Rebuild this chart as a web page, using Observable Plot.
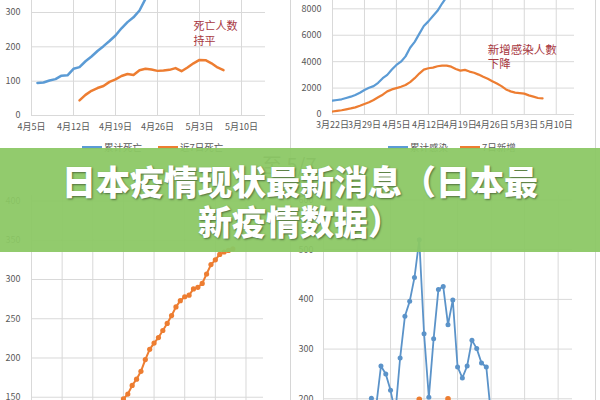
<!DOCTYPE html>
<html><head><meta charset="utf-8">
<script src="https://cdn.jsdelivr.net/npm/d3@7"></script>
<script src="https://cdn.jsdelivr.net/npm/@observablehq/plot@0.6"></script>
<style>
body{margin:0;background:#fff;font-family:"Noto Sans CJK SC","Noto Sans",sans-serif;}
#root{position:relative;width:600px;height:400px;overflow:hidden;background:#fff;}
.panel{position:absolute;}
.vline{position:absolute;top:0;width:1px;height:400px;background:#d6d6d6;}
.legend{position:absolute;font-size:9.5px;color:#595959;display:flex;align-items:center;white-space:nowrap;}
.sw{display:inline-block;width:20px;height:3px;margin:0 2px 0 0;}
#banner{position:absolute;left:0;top:148px;width:600px;height:104px;background:rgba(139,200,100,0.94);}
#title{position:absolute;left:0;top:161px;width:600px;text-align:center;color:#fff;font-weight:900;font-size:34px;line-height:40px;text-shadow:1px 1px 2px rgba(0,0,0,0.45);}
.ghost{position:absolute;color:#666;font-size:20px;}
</style></head>
<body>
<div id="root">
  <div class="panel" id="tl" style="left:0;top:0"></div>
  <div class="panel" id="tr" style="left:290px;top:0"></div>
  <div class="panel" id="bl" style="left:0;top:148px"></div>
  <div class="panel" id="br" style="left:290px;top:148px"></div>
  <div class="vline" style="left:290px"></div>
  <div class="vline" style="left:595px"></div>
  <div class="legend" style="left:82px;top:140px"><span class="sw" style="background:#5B9BD5"></span>累计死亡<span class="sw" style="background:#ED7D31;margin-left:16px"></span>近7日死亡</div>
  <div class="legend" style="left:388px;top:140px"><span class="sw" style="background:#5B9BD5"></span>累计感染<span class="sw" style="background:#ED7D31;margin-left:12px"></span>7日新增</div>
  <div class="ghost" style="left:262px;top:150px">至 5/7</div>
  <div id="banner"></div>
  <div id="title">日本疫情现状最新消息（日本最<br>新疫情数据）</div>
</div>
<script>
// ---- data ----
// top-left: deaths
const tlCumStart = "2020-04-06";
const tlCumDeaths = [95,96,102,106,116,117,136,141,158,172,188,202,217,233,254,272,286,306,340,365];
const tl7dStart = "2020-04-13";
const tl7dDeaths = [44,60,72,80,86,98,105,115,121,118,132,136,134,130,131,133,138,129,140,152,162,161,152,140,132];
const tlYTicks = [0,100,200,300];
const tlXTicks = ["2020-04-05","2020-04-12","2020-04-19","2020-04-26","2020-05-03","2020-05-10"];
const tlNote = ["死亡人数\n持平"];

// top-right: infections
const trCumStart = "2020-03-22";
const trCumCases = [1050,1100,1150,1250,1350,1480,1650,1850,2020,2150,2400,2750,3000,3400,3750,4000,4400,5050,5500,6100,6700,7050,7450,7850,8400,8900];
const tr7dStart = "2020-03-22";
const tr7dCases = [225,270,320,390,460,540,660,800,930,1100,1300,1500,1750,1900,2000,2100,2230,2450,2750,3100,3400,3500,3550,3650,3700,3700,3620,3450,3320,3380,3250,3160,3020,2850,2700,2520,2350,2150,1900,1750,1660,1620,1580,1450,1350,1250,1220];
const trYTicks = [0,2000,4000,6000,8000];
const trXTicks = ["2020-03-22","2020-03-29","2020-04-05","2020-04-12","2020-04-19","2020-04-26","2020-05-03","2020-05-10"];
const trNote = ["新增感染人數\n下降"];

// bottom-left: cumulative series (orange markers)
const blStart = "2020-04-12";
const blValues = [148,154,165,173,183,198,211,219,226,235,244,254,265,273,278,280,288,290,295,307,319,325,332,335,337,339];
const blYTicks = [150,200,250,300,350,400];
const blXTicks = ["2020-03-22","2020-03-29","2020-04-05","2020-04-12","2020-04-19","2020-04-26","2020-05-03","2020-05-10"];

// bottom-right: daily series
const brStart = "2020-04-01";
const brBlue = [201,185,266,250,217,170,282,366,396,444,520,331,203,321,420,426,349,399,264,242,266,318,301,272,264,165];
const brOrangeDates = ["2020-04-11","2020-04-17"];
const brOrange = [199,200];
const brYTicks = [200,300,400,500,600];
const brXTicks = blXTicks;

// ---- helpers ----
const D = s => new Date(s + "T00:00:00Z");
const DAY = 864e5;
const series = (start, vals) => vals.map((v, i) => ({date: new Date(D(start).getTime() + i * DAY), value: v}));
const fmt = d => `${d.getUTCMonth() + 1}月${d.getUTCDate()}日`;
const num = d => String(d);
const BLUE = "#5B9BD5", ORANGE = "#ED7D31", GRID = "#d9d9d9", NOTE = "#A8383F";
const style = {fontFamily: '"Noto Sans CJK SC","Noto Sans",sans-serif', fontSize: "9px", color: "#595959", background: "transparent", overflow: "visible"};

function grids(xt, yt) {
  return [
    Plot.gridY(yt, {stroke: GRID, strokeOpacity: 1}),
    Plot.gridX(xt.map(D), {stroke: GRID, strokeOpacity: 1})
  ];
}

// top-left
document.getElementById("tl").append(Plot.plot({
  width: 290, height: 150, marginTop: 0, marginLeft: 31, marginRight: 25, marginBottom: 35, style,
  x: {type: "utc", domain: [D("2020-04-05"), D("2020-05-14")]},
  y: {domain: [0, 335]},
  marks: [
    ...grids(tlXTicks, tlYTicks),
    Plot.axisY(tlYTicks, {tickSize: 0, tickPadding: 11, tickFormat: num, label: null}),
    Plot.axisX(tlXTicks.map(D), {tickSize: 0, tickPadding: 8, tickFormat: fmt, label: null}),
    Plot.line(series(tlCumStart, tlCumDeaths), {x: "date", y: "value", stroke: BLUE, strokeWidth: 2.5, clip: true}),
    Plot.line(series(tl7dStart, tl7dDeaths), {x: "date", y: "value", stroke: ORANGE, strokeWidth: 2.5, clip: true}),
    Plot.text(tlNote, {x: D("2020-05-02"), y: 280, text: d => d, textAnchor: "start", lineAnchor: "top", lineHeight: 1.35, fill: NOTE, fontSize: 11})
  ]
}));

// top-right
document.getElementById("tr").append(Plot.plot({
  width: 310, height: 150, marginTop: 0, marginLeft: 42, marginRight: 26, marginBottom: 36, style,
  x: {type: "utc", domain: [D("2020-03-22"), D("2020-05-14")]},
  y: {domain: [0, 8630]},
  marks: [
    ...grids(trXTicks, trYTicks),
    Plot.axisY(trYTicks, {tickSize: 0, tickPadding: 11, tickFormat: num, label: null}),
    Plot.axisX(trXTicks.map(D), {tickSize: 0, tickPadding: 7, tickFormat: fmt, label: null}),
    Plot.line(series(trCumStart, trCumCases), {x: "date", y: "value", stroke: BLUE, strokeWidth: 2.2, clip: true}),
    Plot.line(series(tr7dStart, tr7dCases), {x: "date", y: "value", stroke: ORANGE, strokeWidth: 2.2, clip: true}),
    Plot.text(trNote, {x: D("2020-04-25"), y: 5300, text: d => d, textAnchor: "start", lineAnchor: "top", lineHeight: 1.2, fill: NOTE, fontSize: 11.5})
  ]
}));

// bottom-left (x axis lies below the visible area)
document.getElementById("bl").append(Plot.plot({
  width: 290, height: 318, marginTop: 47, marginLeft: 31, marginRight: 27, marginBottom: 30, style,
  x: {type: "utc", domain: [D("2020-03-22"), D("2020-05-14")], axis: null},
  y: {domain: [100, 407]},
  marks: [
    ...grids(blXTicks, blYTicks),
    Plot.axisY(blYTicks, {tickSize: 0, tickPadding: 11, tickFormat: num, label: null}),
    Plot.line(series(blStart, blValues), {x: "date", y: "value", stroke: ORANGE, strokeWidth: 2}),
    Plot.dot(series(blStart, blValues), {x: "date", y: "value", fill: ORANGE, r: 2.6})
  ]
}));

// bottom-right (x axis lies below the visible area)
document.getElementById("br").append(Plot.plot({
  width: 310, height: 330, marginTop: 47, marginLeft: 33, marginRight: 28, marginBottom: 30, style,
  x: {type: "utc", domain: [D("2020-03-22"), D("2020-05-13")], axis: null},
  y: {domain: [100, 609]},
  marks: [
    ...grids(brXTicks, brYTicks),
    Plot.axisY(brYTicks, {tickSize: 0, tickPadding: 10, tickFormat: num, label: null}),
    Plot.line(series(brStart, brBlue), {x: "date", y: "value", stroke: "#5B93C9", strokeWidth: 1.8}),
    Plot.dot(series(brStart, brBlue), {x: "date", y: "value", fill: "#5B93C9", r: 2.5}),
    Plot.dot(brOrangeDates.map((s, i) => ({date: D(s), value: brOrange[i]})), {x: "date", y: "value", fill: ORANGE, r: 2.8})
  ]
}));
</script>
</body></html>
